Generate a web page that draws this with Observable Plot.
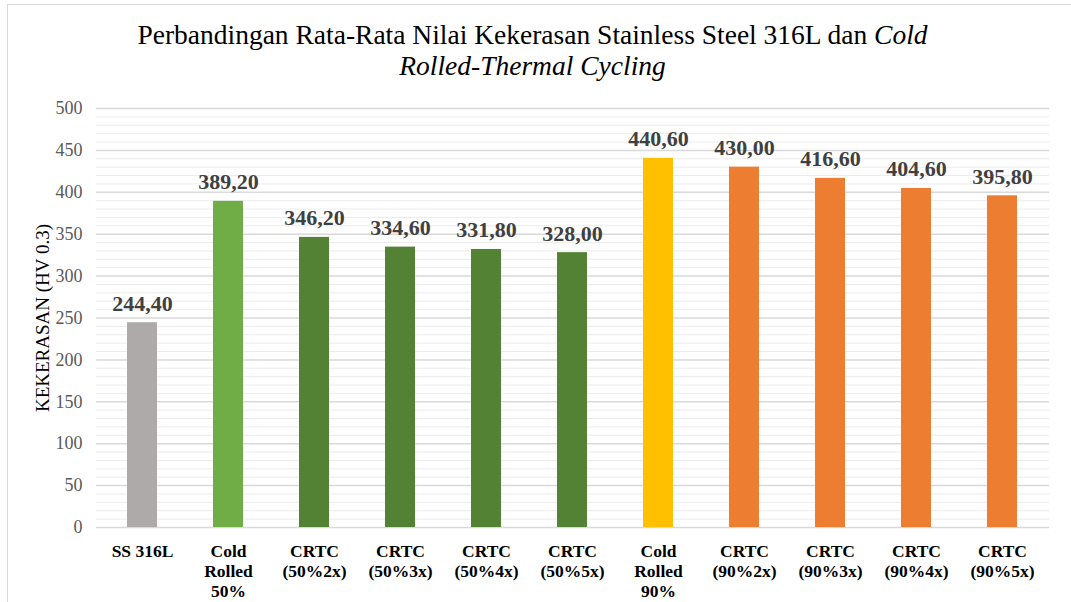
<!DOCTYPE html>
<html>
<head>
<meta charset="utf-8">
<script src="https://cdn.jsdelivr.net/npm/d3@7"></script>
<script src="https://cdn.jsdelivr.net/npm/@observablehq/plot@0.6"></script>
<style>
  html, body { margin: 0; padding: 0; background: #fff; overflow: hidden; }
  #wrap { position: relative; width: 1071px; height: 602px; overflow: hidden; font-family: "Liberation Serif", "Times New Roman", serif; }
  #frame { position: absolute; left: 7px; top: 4px; width: 1100px; height: 700px; border: 1px solid #d9d9d9; box-sizing: border-box; }
  #title { position: relative; height: 90px; box-sizing: border-box; padding-top: 20px; font-size: 27.5px; line-height: 30.5px; text-align: center; color: #000; padding-right: 6px; }
  #chart { position: relative; }
</style>
</head>
<body>
<div id="wrap">
  <div id="frame"></div>
  <div id="title">Perbandingan Rata-Rata Nilai Kekerasan Stainless Steel 316L dan <i>Cold</i><br><i>Rolled-Thermal Cycling</i></div>
  <div id="chart"></div>
</div>
<script>
// Sample groups, their average hardness (HV 0.3) and bar colours
const categories = ["SS 316L", "CR50", "CRTC 50-2", "CRTC 50-3", "CRTC 50-4", "CRTC 50-5",
                    "CR90", "CRTC 90-2", "CRTC 90-3", "CRTC 90-4", "CRTC 90-5"];
const tickLabels = ["SS 316L", "Cold\nRolled\n50%", "CRTC\n(50%2x)", "CRTC\n(50%3x)", "CRTC\n(50%4x)", "CRTC\n(50%5x)",
                    "Cold\nRolled\n90%", "CRTC\n(90%2x)", "CRTC\n(90%3x)", "CRTC\n(90%4x)", "CRTC\n(90%5x)"];
const hardness = [244.40, 389.20, 346.20, 334.60, 331.80, 328.00, 440.60, 430.00, 416.60, 404.60, 395.80];
const barColors = ["#AEAAAA", "#70AD47", "#548235", "#548235", "#548235", "#548235",
                   "#FFC000", "#ED7D31", "#ED7D31", "#ED7D31", "#ED7D31"];
const yTicks = [0, 50, 100, 150, 200, 250, 300, 350, 400, 450, 500];
const yMinorTicks = d3.range(0, 501, 10).filter(v => v % 50 !== 0);
const yLabel = "KEKERASAN (HV 0.3)";

const rows = categories.map((c, i) => ({cat: c, value: hardness[i], color: barColors[i]}));
const tickText = new Map(categories.map((c, i) => [c, tickLabels[i]]));
const fmt = v => d3.format(".2f")(v).replace(".", ",");

const chart = Plot.plot({
  width: 1071,
  height: 512,
  marginTop: 18,
  marginBottom: 75,
  marginLeft: 96,
  marginRight: 22,
  style: {fontFamily: "'Liberation Serif', 'Times New Roman', serif", background: "transparent"},
  x: {domain: categories, paddingInner: 0.65, paddingOuter: 0.35},
  y: {domain: [0, 500]},
  marks: [
    Plot.gridY(yMinorTicks, {stroke: "#d9d9d9", strokeOpacity: 0.5, strokeWidth: 1}),
    Plot.gridY(yTicks, {stroke: "#d9d9d9", strokeOpacity: 1, strokeWidth: 1.5}),
    Plot.barY(rows, {x: "cat", y: "value", fill: "color"}),
    Plot.text(rows, {
      x: "cat", y: "value", text: d => fmt(d.value),
      dy: -19, lineAnchor: "middle", fontSize: 22, fontWeight: "bold", fill: "#404040"
    }),
    Plot.axisY(yTicks, {
      tickSize: 0, tickPadding: 14, fontSize: 18, fill: "#595959", label: null
    }),
    Plot.axisX({
      tickSize: 0, tickPadding: 15, fontSize: 17.5, fontWeight: "bold", fill: "#000",
      lineHeight: 1.15, tickFormat: d => tickText.get(d), label: null
    }),
    Plot.text([yLabel], {
      frameAnchor: "left", rotate: -90, dx: -54, textAnchor: "middle", lineAnchor: "middle",
      fontSize: 19, fill: "#000"
    })
  ]
});
document.getElementById("chart").appendChild(chart);
</script>
</body>
</html>
